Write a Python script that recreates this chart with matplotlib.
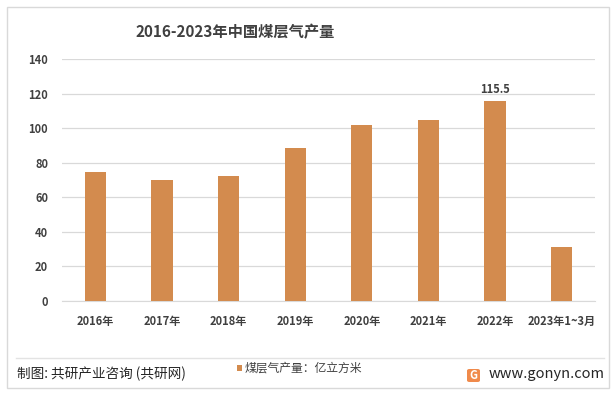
import matplotlib
matplotlib.use("Agg")
import matplotlib.pyplot as plt
from matplotlib.patches import Rectangle, FancyBboxPatch
from matplotlib.lines import Line2D

plt.rcParams['font.family'] = ['Noto Sans CJK SC', 'DejaVu Sans']

categories = ['2016年', '2017年', '2018年', '2019年', '2020年', '2021年', '2022年', '2023年1~3月']
values = [74.6, 70.2, 72.4, 88.6, 101.9, 104.7, 115.5, 31.5]
title = '2016-2023年中国煤层气产量'
legend_label = '煤层气产量：亿立方米'
source = '制图: 共研产业咨询 (共研网)'
site = 'www.gonyn.com'

bar_color = '#D38B4E'
text_color = '#404040'

fig = plt.figure(figsize=(6.16, 3.93), dpi=100)
W, H = 616, 393

# outer border
fig.add_artist(Rectangle((7 / W, 1 - 388 / H), 602 / W, 381 / H, transform=fig.transFigure,
                         fill=False, edgecolor='#D9D9D9', linewidth=1))

ax = fig.add_axes([62 / W, 1 - 301 / H, 533 / W, 242 / H])
x = list(range(len(categories)))
ax.bar(x, values, width=0.32, color=bar_color, zorder=3)
ax.set_xlim(-0.5, len(categories) - 0.5)
ax.set_ylim(0, 140)
ax.set_yticks(range(0, 141, 20))
ax.yaxis.grid(True, color='#D9D9D9', linewidth=0.9, zorder=0)
ax.set_xticks(x)
ax.set_xticklabels(categories)
ax.tick_params(axis='both', length=0, labelsize=8, labelcolor=text_color)
ax.tick_params(axis='x', pad=10)
ax.tick_params(axis='y', pad=10)
for lbl in ax.get_xticklabels() + ax.get_yticklabels():
    lbl.set_fontweight('bold')
for sp in ['top', 'right', 'left']:
    ax.spines[sp].set_visible(False)
ax.spines['bottom'].set_color('#D9D9D9')
ax.set_facecolor('none')

# data label for 2022
ax.annotate(f'{values[6]}', (6, values[6]), xytext=(0, 4), textcoords='offset points',
            ha='center', va='bottom', fontsize=8, fontweight='bold', color=text_color)

fig.text(235 / W, 1 - 32 / H, title, ha='center', va='center', fontsize=11,
         fontweight='bold', color=text_color)

# separator line
fig.add_artist(Line2D([16 / W, 604 / W], [1 - 358 / H, 1 - 358 / H], transform=fig.transFigure,
                      color='#E3E3E3', linewidth=1))

fig.text(17 / W, 1 - 374 / H, source, ha='left', va='center', fontsize=9.8, color='#262626')

# legend
fig.add_artist(Rectangle((237 / W, 1 - 371 / H), 5 / W, 6 / H, transform=fig.transFigure,
                         facecolor=bar_color, edgecolor='none'))
fig.text(245 / W, 1 - 368 / H, legend_label, ha='left', va='center', fontsize=8.5, color=text_color)

# logo
fig.add_artist(FancyBboxPatch((467 / W, 1 - 382 / H), 13 / W, 13 / H, transform=fig.transFigure,
                              boxstyle='round,pad=0,rounding_size=0.004', facecolor='#F08A4B',
                              edgecolor='none'))
fig.text(473.5 / W, 1 - 375.5 / H, 'G', ha='center', va='center', fontsize=8, color='white',
         fontweight='bold')
fig.text(489 / W, 1 - 374 / H, site, ha='left', va='center', fontsize=10.5, color='#262626')

fig.savefig('out.png', dpi=100)
